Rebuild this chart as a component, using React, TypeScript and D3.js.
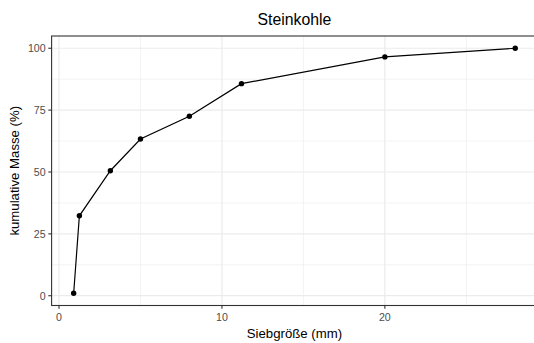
import React from "react";
import * as d3 from "d3";

const sieveSizes = [0.9, 1.25, 3.15, 5, 8, 11.2, 20, 28];
const cumulativeMass = [1, 32.3, 50.5, 63.3, 72.5, 85.7, 96.5, 100];
const xMajorTicks = [0, 10, 20];
const xMinorTicks = [5, 15, 25];
const yMajorTicks = [0, 25, 50, 75, 100];
const yMinorTicks = [12.5, 37.5, 62.5, 87.5];
const title = "Steinkohle";
const xTitle = "Siebgröße (mm)";
const yTitle = "kumulative Masse (%)";

const W = 534;
const H = 343;
const panel = { left: 51.6, top: 36, right: 537.3, bottom: 305.5 };
const font = "'Liberation Sans', Arial, Helvetica, sans-serif";

function expand(ext: [number, number]): [number, number] {
  const r = ext[1] - ext[0];
  return [ext[0] - 0.05 * r, ext[1] + 0.05 * r];
}

export default function App() {
  const x = d3
    .scaleLinear()
    .domain(expand(d3.extent(sieveSizes) as [number, number]))
    .range([panel.left, panel.right]);
  const y = d3
    .scaleLinear()
    .domain(expand(d3.extent(cumulativeMass) as [number, number]))
    .range([panel.bottom, panel.top]);
  const pts = sieveSizes.map((s, i) => [s, cumulativeMass[i]] as [number, number]);
  const line = d3
    .line<[number, number]>()
    .x((d) => x(d[0]))
    .y((d) => y(d[1]));
  const pw = panel.right - panel.left;
  const ph = panel.bottom - panel.top;
  return (
    <svg
      width={W}
      height={H}
      style={{ position: "absolute", left: 0, top: 0, background: "#fff" }}
      fontFamily={font}
    >
      <defs>
        <clipPath id="pclip">
          <rect x={panel.left} y={panel.top} width={pw} height={ph} />
        </clipPath>
      </defs>
      <rect x={0} y={0} width={W} height={H} fill="#fff" />
      <g clipPath="url(#pclip)">
        {xMinorTicks.map((t) => (
          <line key={"xm" + t} x1={x(t)} x2={x(t)} y1={panel.top} y2={panel.bottom} stroke="#ebebeb" strokeWidth={0.6} />
        ))}
        {yMinorTicks.map((t) => (
          <line key={"ym" + t} y1={y(t)} y2={y(t)} x1={panel.left} x2={panel.right} stroke="#ebebeb" strokeWidth={0.6} />
        ))}
        {xMajorTicks.map((t) => (
          <line key={"xM" + t} x1={x(t)} x2={x(t)} y1={panel.top} y2={panel.bottom} stroke="#ebebeb" strokeWidth={1.2} />
        ))}
        {yMajorTicks.map((t) => (
          <line key={"yM" + t} y1={y(t)} y2={y(t)} x1={panel.left} x2={panel.right} stroke="#ebebeb" strokeWidth={1.2} />
        ))}
        <path d={line(pts) || ""} fill="none" stroke="#000" strokeWidth={1.2} />
        {pts.map((p, i) => (
          <circle key={i} cx={x(p[0])} cy={y(p[1])} r={2.7} fill="#000" />
        ))}
      </g>
      <rect x={panel.left} y={panel.top} width={pw} height={ph} fill="none" stroke="#333" strokeWidth={1.1} />
      {xMajorTicks.map((t) => (
        <g key={"xt" + t}>
          <line x1={x(t)} x2={x(t)} y1={panel.bottom} y2={panel.bottom + 3.3} stroke="#333" strokeWidth={1.1} />
          <text x={x(t)} y={panel.bottom + 15.5} textAnchor="middle" fontSize={10.6} fill="#4d4d4d">
            {t}
          </text>
        </g>
      ))}
      {yMajorTicks.map((t) => (
        <g key={"yt" + t}>
          <line x1={panel.left - 3.3} x2={panel.left} y1={y(t)} y2={y(t)} stroke="#333" strokeWidth={1.1} />
          <text x={panel.left - 6} y={y(t) + 3.8} textAnchor="end" fontSize={10.6} fill="#4d4d4d">
            {t}
          </text>
        </g>
      ))}
      <text x={(panel.left + panel.right) / 2} y={338} textAnchor="middle" fontSize={13.2} fill="#000">
        {xTitle}
      </text>
      <text
        transform={`translate(${19},${(panel.top + panel.bottom) / 2}) rotate(-90)`}
        textAnchor="middle"
        fontSize={13.2}
        fill="#000"
      >
        {yTitle}
      </text>
      <text x={(panel.left + panel.right) / 2} y={25} textAnchor="middle" fontSize={15.8} fill="#000">
        {title}
      </text>
    </svg>
  );
}
